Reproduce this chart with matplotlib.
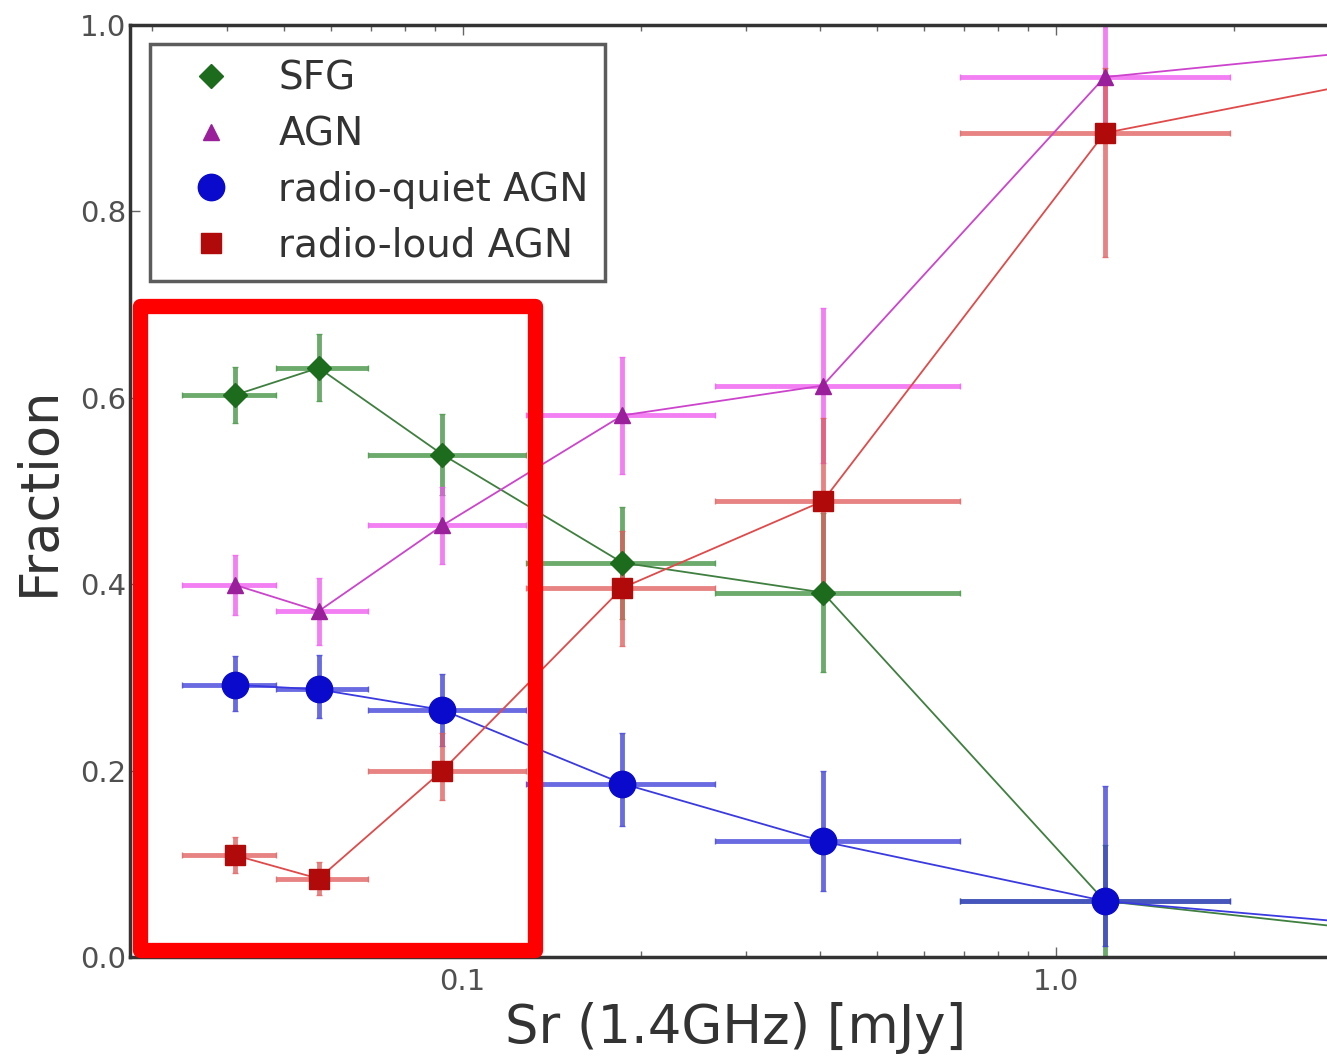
import numpy as np
import matplotlib
matplotlib.use('Agg')
from matplotlib import pyplot as plt
from matplotlib.patches import Rectangle
from matplotlib.ticker import FixedLocator, FixedFormatter, LogLocator, NullFormatter

# flux bins (median flux of each bin and bin edges), mJy
flux = [0.0414, 0.0572, 0.0925, 0.186, 0.405, 1.21, 5.0]
bin_lo = [0.0336, 0.0484, 0.0693, 0.1277, 0.267, 0.691, 3.5]
bin_hi = [0.0484, 0.0693, 0.1277, 0.267, 0.691, 1.97, 7.0]

sfg = [0.603, 0.632, 0.539, 0.423, 0.391, 0.060, 0.017]
sfg_err = [0.030, 0.036, 0.043, 0.060, 0.085, 0.060, 0.020]

agn = [0.399, 0.371, 0.463, 0.581, 0.613, 0.944, 0.983]
agn_err = [0.032, 0.036, 0.041, 0.063, 0.083, 0.065, 0.020]

rq = [0.292, 0.287, 0.265, 0.186, 0.124, 0.060, 0.026]
rq_lo = [0.028, 0.031, 0.039, 0.046, 0.053, 0.048, 0.020]
rq_hi = [0.031, 0.037, 0.039, 0.054, 0.075, 0.123, 0.020]

rl = [0.109, 0.084, 0.200, 0.396, 0.489, 0.884, 0.961]
rl_lo = [0.019, 0.018, 0.032, 0.062, 0.088, 0.133, 0.020]
rl_hi = [0.020, 0.018, 0.040, 0.061, 0.089, 0.070, 0.020]

flux = np.array(flux)
xerr = [flux - np.array(bin_lo), np.array(bin_hi) - flux]

fig = plt.figure(figsize=(13.27, 10.58), dpi=100)
ax = fig.add_axes([0.098, 0.0955, 0.912, 0.881])

series = [
    ('SFG', sfg, sfg_err, 'D', '#1d6b1d', '#3c8f3c', '#3f7f3f', 12),
    ('AGN', agn, agn_err, '^', '#9a1f9a', '#f055f0', '#cc44cc', 12),
    ('radio-quiet AGN', rq, [rq_lo, rq_hi], 'o', '#0a0acc', '#3a3ad8', '#3a3ae0', 19),
    ('radio-loud AGN', rl, [rl_lo, rl_hi], 's', '#b00a0a', '#e05a5a', '#e04a4a', 14),
]

for name, y, yerr, mk, mcol, ecol, lcol, ms in series:
    ax.errorbar(flux, y, xerr=xerr, yerr=yerr, fmt='none', ecolor=ecol,
                elinewidth=3.5, capsize=2, alpha=0.75, zorder=2)
    ax.plot(flux, y, '-', color=lcol, lw=1.3, zorder=3)
    ax.plot(flux, y, mk, color=mcol, mec=mcol, ms=ms, ls='none', label=name, zorder=4)

ax.set_xscale('log')
ax.set_xlim(0.0275, 3.02)
ax.set_ylim(0.0, 1.0)

ax.xaxis.set_major_locator(FixedLocator([0.1, 1.0]))
ax.xaxis.set_major_formatter(FixedFormatter(['0.1', '1.0']))
ax.xaxis.set_minor_locator(LogLocator(base=10, subs=np.arange(2, 10)))
ax.xaxis.set_minor_formatter(NullFormatter())
ax.set_yticks([0.0, 0.2, 0.4, 0.6, 0.8, 1.0])
ax.set_yticklabels(['0.0', '0.2', '0.4', '0.6', '0.8', '1.0'])

ax.tick_params(which='both', direction='in', top=True, right=True, colors='#666666',
               labelcolor='#505050', labelsize=21)
ax.tick_params(which='major', length=7, width=1)
ax.tick_params(which='minor', length=4, width=1)
ax.tick_params(axis='y', pad=3)
ax.tick_params(axis='x', pad=8)
for s in ax.spines.values():
    s.set_linewidth(2.5)
    s.set_color('#333333')

ax.set_xlabel('Sr (1.4GHz) [mJy]', fontsize=38, color='#333333', labelpad=4)
ax.set_ylabel('Fraction', fontsize=38, color='#333333', labelpad=11)

leg = ax.legend(loc='upper left', bbox_to_anchor=(0.0165, 0.98), borderaxespad=0,
                numpoints=1, fontsize=28, fancybox=False, frameon=True,
                handletextpad=0.58, labelspacing=0.45, borderpad=0.42, handlelength=2.3)
leg.get_frame().set_edgecolor('#333333')
leg.get_frame().set_linewidth(2.5)
for t in leg.get_texts():
    t.set_color('#333333')

# red highlight box drawn over the low-flux bins
box = Rectangle((0.1055, 0.1025), 0.2975, 0.6085, transform=fig.transFigure,
                fill=False, edgecolor='#ff0000', linewidth=11, joinstyle='round',
                zorder=10)
fig.patches.append(box)

fig.savefig('out.png', dpi=100)
